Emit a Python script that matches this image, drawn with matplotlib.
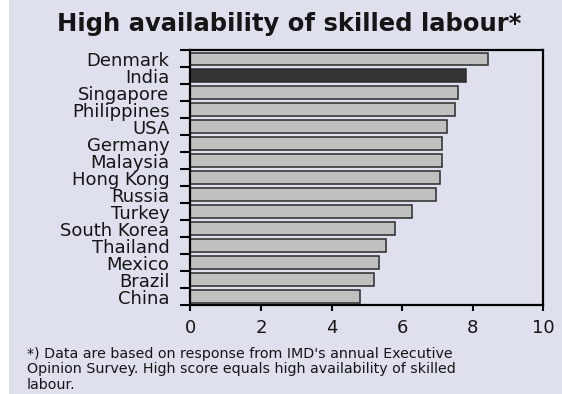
import matplotlib
matplotlib.use("Agg")
import matplotlib.pyplot as plt
import numpy as np
from matplotlib.patches import Rectangle

countries = ["Denmark", "India", "Singapore", "Philippines", "USA", "Germany",
             "Malaysia", "Hong Kong", "Russia", "Turkey", "South Korea",
             "Thailand", "Mexico", "Brazil", "China"]
scores = [8.42, 7.80, 7.57, 7.49, 7.26, 7.13, 7.14, 7.08, 6.96, 6.29,
          5.79, 5.53, 5.35, 5.21, 4.82]
highlight = "India"
xticks = [0, 2, 4, 6, 8, 10]

plt.rcParams['font.family'] = ['DejaVu Sans']
BG = "#dfe0ee"
TXT = "#151515"

fig = plt.figure(figsize=(5.62, 3.94), dpi=100)
fig.patch.set_facecolor("white")
fig.patches.append(Rectangle((9/562, 0), 1, 1, transform=fig.transFigure,
                             facecolor=BG, edgecolor="none", zorder=-10))

ax = fig.add_axes([190.3/562, 1-305/394, (543.3-190.3)/562, (305-50.3)/394])
ax.set_facecolor(BG)

y = np.arange(len(countries))
colors = ["#333333" if c == highlight else "#c0c0c0" for c in countries]
ax.barh(y, scores, height=0.74, color=colors, edgecolor="#2a2a2a", linewidth=1.1)
ax.set_ylim(len(countries) - 0.5, -0.5)
ax.set_xlim(0, 10)
ax.set_yticks(y)
ax.set_yticklabels(countries, fontsize=13, color=TXT)
ax.set_yticks(np.arange(len(countries) + 1) - 0.5, minor=True)
ax.tick_params(axis="y", which="major", length=0, pad=15)
ax.tick_params(axis="y", which="minor", length=7, width=1.5, direction="out")
ax.set_xticks(xticks)
ax.set_xticklabels([str(t) for t in xticks], fontsize=13, color=TXT)
ax.tick_params(axis="x", length=4, width=1.5, direction="out", pad=6)
for s in ax.spines.values():
    s.set_linewidth(1.6)
    s.set_color("black")

fig.text(289/562, 1-31/394, "High availability of skilled labour*", ha="center", va="baseline",
         fontsize=17.5, fontweight="bold", color=TXT)
notes = ["*) Data are based on response from IMD's annual Executive",
         "Opinion Survey. High score equals high availability of skilled",
         "labour."]
for i, line in enumerate(notes):
    fig.text(27/562, 1-(358 + 15.3*i)/394, line, ha="left", va="baseline",
             fontsize=10.3, color=TXT)

fig.savefig("out.png", dpi=100, facecolor=fig.get_facecolor())
